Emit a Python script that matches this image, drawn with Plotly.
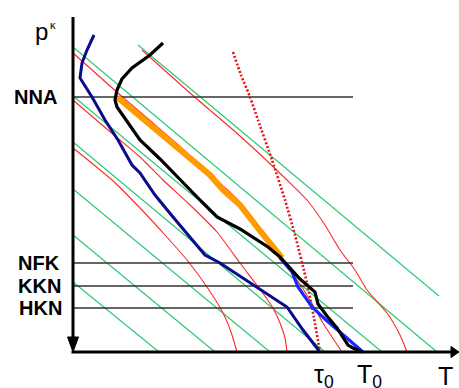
import plotly.graph_objects as go

# ---- data (diagram coordinates, pixel-like units; y grows downward) ----
# dry adiabats (straight green lines): start and end points
green_x0 = [73, 73, 73, 73, 73, 73, 138]
green_y0 = [47, 96, 142, 189, 235, 282, 45]
green_x1 = [437, 382, 325, 270, 215, 159, 439]
green_y1 = [352, 352, 352, 352, 352, 352, 296]

# moist adiabats (thin red curves)
red1_x = [142, 190, 240, 287, 307, 325, 340, 355, 367, 387, 400, 407]
red1_y = [50, 93, 136, 180, 200, 225, 250, 270, 290, 313, 335, 352]
red2_x = [73, 110, 147, 175, 200, 222, 240, 258, 273, 295, 310, 323, 334, 342]
red2_y = [53, 86, 118, 142, 165, 185, 202, 225, 247, 277, 300, 323, 340, 352]
red3_x = [73, 108, 140, 163, 190, 217, 240, 262, 273, 280, 285, 287]
red3_y = [100, 130, 157, 180, 205, 232, 263, 292, 308, 323, 338, 352]
red4_x = [73, 112, 140, 165, 187, 207, 223, 231, 237]
red4_y = [148, 180, 208, 235, 260, 287, 313, 332, 352]

# dotted red curve
dot_x = [233, 241, 250, 258, 272, 285, 295, 307, 314, 320]
dot_y = [52, 75, 97, 120, 160, 200, 235, 283, 318, 352]

# dew point curve (navy)
navy_x = [94, 87, 82, 80, 92, 105, 118, 132, 140, 155, 173, 190, 205, 220, 243, 257, 287, 303, 320]
navy_y = [35, 50, 63, 78, 97, 120, 140, 165, 173, 195, 217, 237, 255, 263, 278, 287, 307, 330, 352]

# temperature curve (black)
black_x = [163, 150, 132, 122, 117, 115, 117, 127, 140, 160, 180, 198, 205, 217, 240, 268, 280,
           290, 300, 307, 315, 318, 327, 337, 343, 348, 353, 362]
black_y = [43, 55, 68, 79, 90, 100, 107, 121, 140, 159, 180, 198, 205, 217, 229, 247, 257,
           268, 279, 285, 292, 304, 316, 328, 338, 345, 348, 352]

# parcel curve (orange) and lower parcel curve (blue)
orange_x = [117, 145, 180, 210, 223, 240, 257, 270, 282]
orange_y = [97, 120, 150, 175, 190, 205, 227, 242, 258]
blue_x = [280, 292, 298, 305, 312, 326, 340, 352, 363]
blue_y = [258, 272, 287, 297, 307, 320, 332, 342, 352]

# levels
level_names = ["NNA", "NFK", "KKN", "HKN"]
level_y = [97, 263, 286, 308]
level_label_x = [12, 16, 16, 17]
level_x_end = 353

# axis labels
bottom_labels = ["τ<sub>0</sub>", "T<sub>0</sub>", "T"]
bottom_label_x = [312, 355, 436]

AX_X = 73
AX_Y = 352

fig = go.Figure()

# green lines
for x0, y0, x1, y1 in zip(green_x0, green_y0, green_x1, green_y1):
    fig.add_trace(go.Scatter(x=[x0, x1], y=[y0, y1], mode="lines",
                             line=dict(color="rgb(40,200,115)", width=1.1),
                             hoverinfo="skip"))
# red curves
for rx, ry in [(red1_x, red1_y), (red2_x, red2_y), (red3_x, red3_y), (red4_x, red4_y)]:
    fig.add_trace(go.Scatter(x=rx, y=ry, mode="lines",
                             line=dict(color="rgb(255,40,40)", width=1.1, shape="spline", smoothing=0.6),
                             hoverinfo="skip"))
# level lines
for ly in level_y:
    fig.add_trace(go.Scatter(x=[AX_X, level_x_end], y=[ly, ly], mode="lines",
                             line=dict(color="rgb(50,50,50)", width=1.6), hoverinfo="skip"))
# dotted red
fig.add_trace(go.Scatter(x=dot_x, y=dot_y, mode="lines",
                         line=dict(color="rgb(230,20,20)", width=2.6, dash="2px,2px",
                                   shape="spline", smoothing=0.6), hoverinfo="skip"))
# navy
fig.add_trace(go.Scatter(x=navy_x, y=navy_y, mode="lines",
                         line=dict(color="rgb(10,10,140)", width=3), hoverinfo="skip"))
# orange
fig.add_trace(go.Scatter(x=orange_x, y=orange_y, mode="lines",
                         line=dict(color="rgb(255,155,0)", width=6), hoverinfo="skip"))
# blue
fig.add_trace(go.Scatter(x=blue_x, y=blue_y, mode="lines",
                         line=dict(color="rgb(20,40,255)", width=3.2), hoverinfo="skip"))
# black
fig.add_trace(go.Scatter(x=black_x, y=black_y, mode="lines",
                         line=dict(color="black", width=3.2), hoverinfo="skip"))

# axes
fig.add_trace(go.Scatter(x=[AX_X, AX_X], y=[17, 340], mode="lines",
                         line=dict(color="black", width=3), hoverinfo="skip"))
fig.add_trace(go.Scatter(x=[AX_X - 1.5, 453], y=[AX_Y, AX_Y], mode="lines",
                         line=dict(color="black", width=3), hoverinfo="skip"))
fig.add_trace(go.Scatter(x=[AX_X - 5.5, AX_X + 5.5, AX_X, AX_X - 5.5], y=[337, 337, AX_Y, 337],
                         mode="lines", fill="toself", fillcolor="black",
                         line=dict(color="black", width=1), hoverinfo="skip"))
fig.add_trace(go.Scatter(x=[451, 451, 459, 451], y=[AX_Y - 5.5, AX_Y + 5.5, AX_Y, AX_Y - 5.5],
                         mode="lines", fill="toself", fillcolor="black",
                         line=dict(color="black", width=1), hoverinfo="skip"))

ann = []
font_b = dict(family="Liberation Sans, Arial, sans-serif", size=20, color="black")
for name, ly, lx in zip(level_names, level_y, level_label_x):
    ann.append(dict(x=lx, y=ly, text="<b>%s</b>" % name, showarrow=False,
                    xanchor="left", yanchor="middle", font=font_b))
font_r = dict(family="Liberation Sans, Arial, sans-serif", size=24, color="black")
ann.append(dict(x=33, y=31, text="p", showarrow=False, xanchor="left", yanchor="middle", font=font_r))
ann.append(dict(x=48, y=25, text="κ", showarrow=False, xanchor="left", yanchor="middle",
                font=dict(family="Liberation Sans, Arial, sans-serif", size=11, color="black")))
font_bl = dict(family="Liberation Sans, Arial, sans-serif", size=25, color="black")
for t, bx in zip(bottom_labels, bottom_label_x):
    ann.append(dict(x=bx, y=376, text=t, showarrow=False, xanchor="left", yanchor="middle", font=font_bl))

fig.update_layout(
    width=459, height=388, margin=dict(l=0, r=0, t=0, b=0),
    paper_bgcolor="white", plot_bgcolor="white", showlegend=False,
    xaxis=dict(range=[0, 459], visible=False, fixedrange=True),
    yaxis=dict(range=[388, 0], visible=False, fixedrange=True),
    annotations=ann,
)
fig.write_html("out.html")
